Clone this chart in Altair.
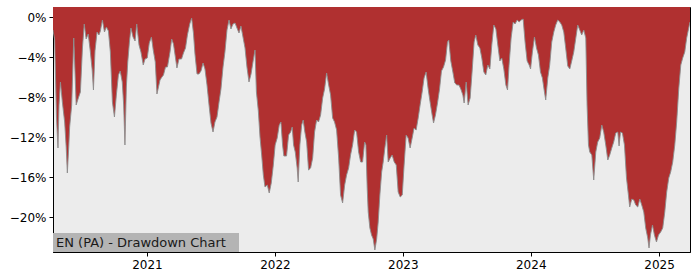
import altair as alt
import pandas as pd

# Decimal-year time stamps and drawdown (%)
years = [
    2020.268, 2020.281, 2020.295, 2020.307, 2020.315, 2020.326, 2020.341, 2020.359, 2020.371, 2020.380,
    2020.391, 2020.398, 2020.414, 2020.430, 2020.440, 2020.449, 2020.466, 2020.482, 2020.498, 2020.512,
    2020.527, 2020.543, 2020.559, 2020.574, 2020.584, 2020.596, 2020.612, 2020.627, 2020.638, 2020.654,
    2020.670, 2020.685, 2020.701, 2020.716, 2020.732, 2020.748, 2020.763, 2020.779, 2020.793, 2020.809,
    2020.820, 2020.830, 2020.841, 2020.852, 2020.865, 2020.877, 2020.893, 2020.909, 2020.922, 2020.940,
    2020.955, 2020.973, 2020.987, 2021.002, 2021.018, 2021.035, 2021.049, 2021.065, 2021.078, 2021.090,
    2021.102, 2021.117, 2021.129, 2021.145, 2021.160, 2021.180, 2021.193, 2021.207, 2021.223, 2021.234,
    2021.250, 2021.270, 2021.285, 2021.301, 2021.316, 2021.334, 2021.349, 2021.363, 2021.375, 2021.391,
    2021.406, 2021.422, 2021.438, 2021.453, 2021.469, 2021.484, 2021.500, 2021.516, 2021.531, 2021.547,
    2021.563, 2021.578, 2021.594, 2021.609, 2021.625, 2021.641, 2021.656, 2021.672, 2021.688, 2021.703,
    2021.719, 2021.734, 2021.750, 2021.766, 2021.781, 2021.797, 2021.813, 2021.828, 2021.844, 2021.855,
    2021.870, 2021.883, 2021.896, 2021.909, 2021.922, 2021.940, 2021.955, 2021.971, 2021.987, 2022.002,
    2022.018, 2022.034, 2022.047, 2022.060, 2022.070, 2022.091, 2022.107, 2022.123, 2022.135, 2022.146,
    2022.159, 2022.174, 2022.182, 2022.195, 2022.209, 2022.221, 2022.234, 2022.248, 2022.263, 2022.279,
    2022.295, 2022.310, 2022.326, 2022.341, 2022.357, 2022.373, 2022.388, 2022.404, 2022.420, 2022.435,
    2022.451, 2022.466, 2022.482, 2022.498, 2022.513, 2022.529, 2022.545, 2022.560, 2022.576, 2022.591,
    2022.607, 2022.623, 2022.638, 2022.654, 2022.670, 2022.685, 2022.701, 2022.711, 2022.721, 2022.729,
    2022.742, 2022.755, 2022.768, 2022.781, 2022.795, 2022.807, 2022.820, 2022.834, 2022.846, 2022.859,
    2022.873, 2022.885, 2022.901, 2022.916, 2022.932, 2022.948, 2022.963, 2022.979, 2022.995, 2023.010,
    2023.026, 2023.041, 2023.057, 2023.073, 2023.088, 2023.104, 2023.120, 2023.135, 2023.151, 2023.166,
    2023.182, 2023.198, 2023.213, 2023.229, 2023.240, 2023.255, 2023.271, 2023.287, 2023.302, 2023.318,
    2023.334, 2023.349, 2023.359, 2023.375, 2023.391, 2023.406, 2023.422, 2023.438, 2023.453, 2023.469,
    2023.479, 2023.495, 2023.510, 2023.526, 2023.541, 2023.557, 2023.570, 2023.586, 2023.602, 2023.617,
    2023.633, 2023.648, 2023.664, 2023.680, 2023.695, 2023.711, 2023.727, 2023.742, 2023.758, 2023.773,
    2023.789, 2023.805, 2023.818, 2023.830, 2023.846, 2023.862, 2023.877, 2023.893, 2023.909, 2023.924,
    2023.940, 2023.955, 2023.971, 2023.987, 2023.998, 2024.013, 2024.029, 2024.045, 2024.060, 2024.076,
    2024.091, 2024.107, 2024.117, 2024.133, 2024.148, 2024.164, 2024.180, 2024.195, 2024.211, 2024.227,
    2024.242, 2024.258, 2024.273, 2024.289, 2024.305, 2024.320, 2024.336, 2024.352, 2024.367, 2024.383,
    2024.398, 2024.414, 2024.430, 2024.440, 2024.451, 2024.461, 2024.477, 2024.492, 2024.508, 2024.523,
    2024.539, 2024.555, 2024.570, 2024.586, 2024.602, 2024.617, 2024.633, 2024.648, 2024.664, 2024.680,
    2024.690, 2024.701, 2024.716, 2024.732, 2024.748, 2024.763, 2024.773, 2024.789, 2024.805, 2024.820,
    2024.836, 2024.852, 2024.867, 2024.883, 2024.898, 2024.914, 2024.924, 2024.935, 2024.951, 2024.966,
    2024.982, 2024.998, 2025.013, 2025.029, 2025.045, 2025.060, 2025.076, 2025.091, 2025.107, 2025.123,
    2025.138, 2025.154, 2025.170, 2025.185, 2025.201, 2025.216, 2025.232, 2025.242,
]

drawdown = [
    -1.3, -2.3, -10.0, -13.1, -8.8, -6.5, -8.5, -10.5, -13.0, -15.6,
    -13.0, -11.0, -8.8, -2.1, -5.5, -8.8, -8.1, -7.5, -3.1, -0.7,
    -2.2, -1.7, -3.4, -5.3, -7.3, -3.4, -1.5, -1.8, -1.4, -0.3,
    -1.5, -1.0, -1.4, -3.5, -8.5, -10.0, -7.8, -5.8, -5.4, -6.5,
    -8.8, -12.8, -7.0, -4.5, -2.5, -1.1, -2.0, -2.4, -0.7, -2.8,
    -3.5, -4.8, -4.2, -4.1, -2.6, -2.0, -3.3, -4.5, -7.7, -7.0,
    -6.3, -6.0, -5.8, -5.0, -5.0, -3.5, -2.2, -2.7, -4.1, -5.1,
    -4.2, -4.2, -3.6, -3.1, -1.8, -0.7, -0.1, -1.6, -3.7, -5.7,
    -5.7, -5.4, -4.6, -5.2, -6.8, -8.7, -10.6, -11.5, -10.5, -10.0,
    -8.5, -7.2, -5.0, -3.5, -1.3, -0.3, -1.2, -0.7, -0.6, -1.1,
    -1.6, -0.9, -2.0, -3.1, -5.0, -6.5, -5.7, -4.5, -3.3, -7.5,
    -9.4, -12.0, -13.8, -15.8, -17.0, -16.8, -17.6, -16.6, -14.8, -12.8,
    -12.1, -10.8, -10.5, -12.8, -13.9, -13.9, -11.8, -11.5, -11.0, -12.8,
    -13.5, -15.1, -16.5, -12.8, -10.8, -10.3, -11.5, -12.5, -15.3, -15.1,
    -14.1, -11.5, -10.3, -10.5, -9.8, -8.1, -7.2, -5.6, -6.8, -7.8,
    -10.1, -10.5, -11.3, -14.1, -17.8, -18.6, -16.8, -15.8, -15.1, -13.8,
    -12.8, -11.3, -11.5, -13.5, -14.5, -14.5, -12.5, -12.8, -17.1, -19.5,
    -21.1, -21.8, -22.2, -23.3, -22.2, -20.5, -17.8, -15.5, -14.5, -13.1,
    -11.8, -14.5, -14.1, -13.8, -14.5, -14.8, -17.5, -18.0, -17.8, -14.8,
    -11.8, -12.1, -13.1, -12.1, -11.1, -11.3, -10.1, -8.8, -7.5, -6.1,
    -5.5, -7.2, -8.5, -9.8, -10.6, -9.8, -8.6, -7.2, -5.4, -5.0,
    -4.3, -2.5, -2.3, -4.4, -5.5, -6.6, -6.8, -6.8, -7.2, -7.8,
    -8.6, -6.5, -8.8, -8.1, -5.5, -2.5, -1.8, -2.8, -3.1, -4.1,
    -5.5, -5.8, -4.8, -5.2, -2.8, -0.8, -1.2, -2.8, -4.4, -4.1,
    -5.2, -6.8, -7.3, -4.8, -2.1, -0.5, -0.7, -0.3, -0.5, -0.3,
    -0.2, -2.5, -4.4, -4.8, -5.2, -3.5, -2.0, -3.1, -3.8, -5.5,
    -6.1, -7.5, -8.3, -6.1, -4.8, -2.5, -1.5, -0.8, -0.3, -0.5,
    -0.8, -1.5, -3.1, -4.9, -5.2, -4.4, -3.5, -2.1, -0.8, -1.3,
    -1.8, -1.3, -2.1, -8.8, -12.8, -13.5, -13.8, -16.3, -13.5, -12.5,
    -12.1, -10.8, -11.5, -12.8, -14.3, -13.8, -13.1, -12.5, -11.6, -11.5,
    -12.9, -11.5, -11.6, -12.8, -16.1, -17.8, -19.0, -18.2, -18.3, -18.8,
    -19.0, -18.2, -18.8, -19.5, -21.1, -22.1, -23.1, -21.8, -20.8, -21.8,
    -22.5, -21.8, -21.5, -21.1, -19.5, -17.5, -16.1, -15.5, -14.5, -12.8,
    -10.5, -7.2, -4.8, -4.1, -3.5, -2.1, -1.1, -0.5,
]

y_ticks = [0, -4, -8, -12, -16, -20]
y_range = [-23.5, 1.0]
x_tick_years = [2021, 2022, 2023, 2024, 2025]
label_text = "EN (PA) - Drawdown Chart"


def to_date(y):
    base = int(y)
    return pd.Timestamp(base, 1, 1) + pd.Timedelta(days=(y - base) * 365.25)


df = pd.DataFrame({
    "date": [to_date(y) for y in years],
    "dd": drawdown,
    "top": [y_range[1]] * len(drawdown),
})

x_enc = alt.X(
    "date:T",
    scale=alt.Scale(nice=False, padding=0),
    axis=alt.Axis(
        values=[alt.DateTime(year=y, month=1, date=1) for y in x_tick_years],
        format="%Y",
        title=None,
        grid=False,
    ),
)
y_scale = alt.Scale(domain=y_range, nice=False, zero=False)
y_enc = alt.Y(
    "dd:Q",
    scale=y_scale,
    axis=alt.Axis(
        values=y_ticks,
        labelExpr="replace(format(datum.value, 'd'), '-', '\u2212') + '%'",
        title=None,
        grid=False,
    ),
)

area = alt.Chart(df).mark_area(color="#b03030", opacity=1, clip=True).encode(
    x=x_enc, y=y_enc, y2="top:Q"
)
edge = alt.Chart(df).mark_line(color="#8c8c8c", strokeWidth=0.9, clip=True).encode(
    x="date:T", y="dd:Q"
)

box = alt.Chart(pd.DataFrame({"t": [label_text]})).mark_rect(color="#b4b4b4").encode(
    x=alt.value(0), x2=alt.value(186), y=alt.value(226), y2=alt.value(245)
)
txt = alt.Chart(pd.DataFrame({"t": [label_text]})).mark_text(
    align="left", baseline="middle", font="DejaVu Sans", fontSize=13, color="#1a1a1a"
).encode(x=alt.value(3), y=alt.value(236), text="t:N")

chart = (
    alt.layer(area, edge, box, txt)
    .properties(
        width=637,
        height=245,
        autosize=alt.AutoSizeParams(type="none"),
        padding={"left": 53, "top": 7, "right": 10, "bottom": 28},
        background="white",
    )
    .configure_view(fill="#ececec", stroke="black", strokeWidth=1)
    .configure_axis(
        labelFont="DejaVu Sans",
        labelFontSize=12,
        labelColor="black",
        tickColor="black",
        domainColor="black",
        tickSize=4,
        labelPadding=3,
    )
)

chart.save("out.html", embed_options={"renderer": "svg", "actions": False})
